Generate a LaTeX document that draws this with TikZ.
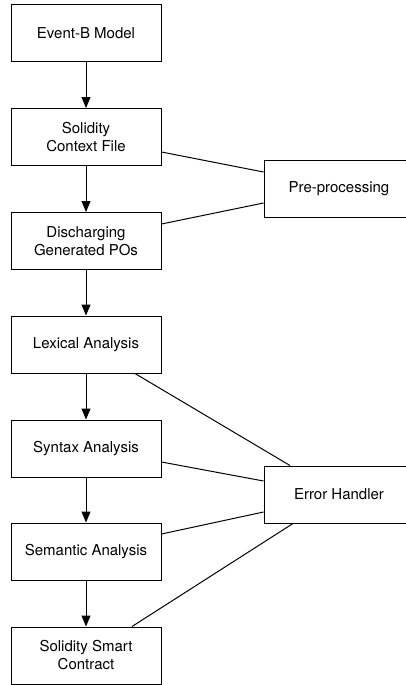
\documentclass[tikz,border=0pt]{standalone}
\usepackage{fontspec}
\setmainfont{TeX Gyre Heros}
\usetikzlibrary{arrows.meta}
\begin{document}
\begin{tikzpicture}[x=1pt,y=-1pt,
  box/.style={draw,line width=1pt,minimum width=150pt,minimum height=57pt,inner sep=0pt,
    align=center,font=\fontsize{15}{18}\selectfont},
  flow/.style={line width=1pt,-{Triangle[length=11pt,width=9pt]}},
  link/.style={line width=1pt}]
\useasboundingbox (0,0) rectangle (406,685);
\node[box] (evb) at (86,33.5) {Event-B Model};
\node[box] (ctx) at (86,137) {Solidity\\Context File};
\node[box] (dis) at (86,241) {Discharging\\Generated POs};
\node[box] (lex) at (86,344.5) {Lexical Analysis};
\node[box] (syn) at (86,448.5) {Syntax Analysis};
\node[box] (sem) at (86,551.5) {Semantic Analysis};
\node[box] (sol) at (86,655.5) {Solidity Smart\\Contract};
\node[box] (pre) at (339,188.5) {Pre-processing};
\node[box] (eh) at (339,494.5) {Error Handler};
\draw[flow] (evb) -- (ctx);
\draw[flow] (ctx) -- (dis);
\draw[flow] (dis) -- (lex);
\draw[flow] (lex) -- (syn);
\draw[flow] (syn) -- (sem);
\draw[flow] (sem) -- (sol);
\draw[link] ([yshift=-15pt]ctx.east) -- ([yshift=16.5pt]pre.west);
\draw[link] ([yshift=17pt]dis.east) -- ([yshift=-14.5pt]pre.west);
\draw[link] ([xshift=49pt]lex.south) -- ([xshift=-49pt]eh.north);
\draw[link] ([yshift=-13.5pt]syn.east) -- ([yshift=13.5pt]eh.west);
\draw[link] ([yshift=17.5pt]sem.east) -- ([yshift=-17.5pt]eh.west);
\draw[link] ([xshift=-46pt]eh.south) -- ([xshift=46pt]sol.north);
\end{tikzpicture}
\end{document}
